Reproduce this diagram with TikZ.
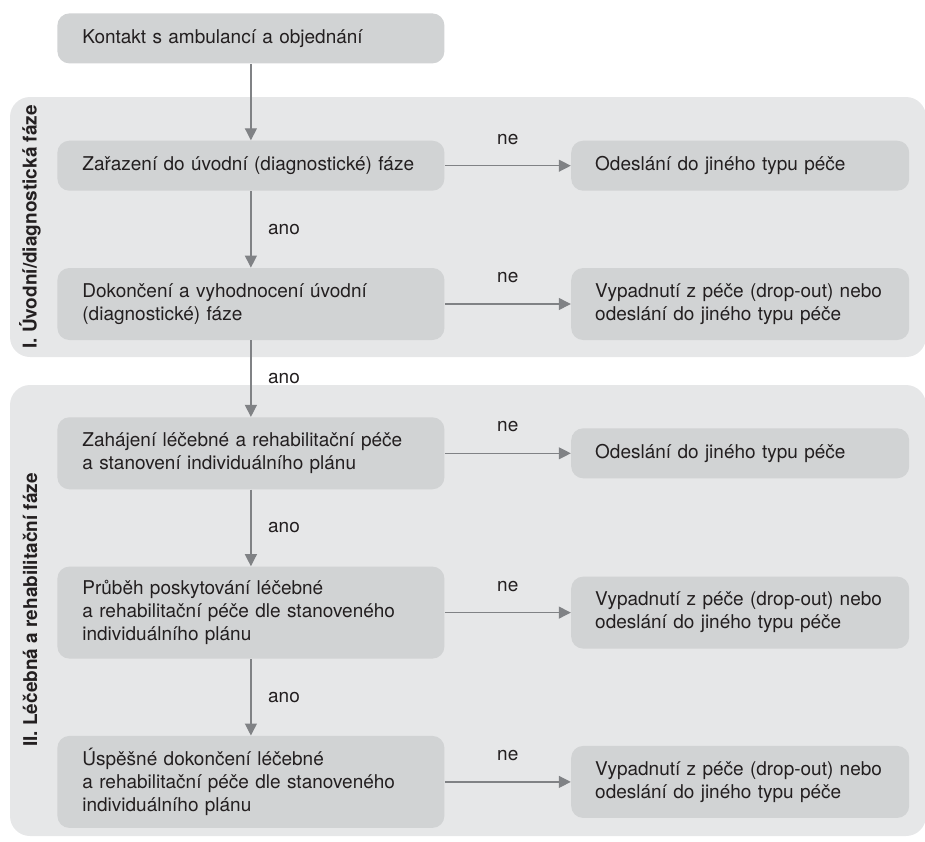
\documentclass[tikz,border=0pt]{standalone}
\usepackage{fontspec}
\setmainfont{TeX Gyre Heros}
\usetikzlibrary{positioning,arrows.meta}
\definecolor{panel}{HTML}{E6E7E8}
\definecolor{krabice}{HTML}{D1D3D4}
\definecolor{sipkaseda}{HTML}{808285}
\definecolor{pismo}{HTML}{231F20}

\begin{document}
\begin{tikzpicture}[
    x=0.5pt,y=-0.5pt,
    font=\fontsize{9.5}{11.5}\selectfont,
    text=pismo,
    krok/.style={
      rectangle,
      rounded corners=6pt,
      fill=krabice,
      text width=168.5pt,
      inner xsep=12.5pt,
      inner ysep=0pt,
      align=left},
    vystup/.style={
      rectangle,
      rounded corners=6pt,
      fill=krabice,
      text width=145pt,
      inner xsep=12pt,
      inner ysep=0pt,
      align=left},
    faze/.style={
      rotate=90,
      font=\fontsize{9.5}{11.5}\selectfont\bfseries},
    sipka/.style={
      -{Triangle[length=6pt,width=6pt]},
      line width=0.6pt,
      draw=sipkaseda}]
  \useasboundingbox (0,0) rectangle (925,841);

  % faze
  \fill[panel,rounded corners=10pt] (10,97) rectangle (926,357);
  \fill[panel,rounded corners=10pt] (10,385) rectangle (926,836);
  \node[faze] (fazeI) at (30,227) {I. Úvodní/diagnostická fáze};
  \node[faze] (fazeII) at (30,610) {II. Léčebná a rehabilitační fáze};

  % hlavni sloupec
  \node[krok,minimum height=25pt,anchor=north west] at (57,13) (kontakt)
    {Kontakt s ambulancí a objednání};
  \node[krok,minimum height=25pt,below=38.25pt of kontakt] (zarazeni)
    {Zařazení do úvodní (diagnostické) fáze};
  \node[krok,minimum height=36pt,below=38.25pt of zarazeni] (dokonceni)
    {Dokončení a vyhodnocení úvodní\\(diagnostické) fáze};
  \node[krok,minimum height=36pt,below=38.25pt of dokonceni] (zahajeni)
    {Zahájení léčebné a rehabilitační péče\\a stanovení individuálního plánu};
  \node[krok,minimum height=46pt,below=38.25pt of zahajeni] (prubeh)
    {Průběh poskytování léčebné\\a rehabilitační péče dle stanoveného\\individuálního plánu};
  \node[krok,minimum height=46pt,below=38.25pt of prubeh] (uspech)
    {Úspěšné dokončení léčebné\\a rehabilitační péče dle stanoveného\\individuálního plánu};

  % vystupy
  \node[vystup,minimum height=25pt,right=63pt of zarazeni] (odeslaniA)
    {Odeslání do jiného typu péče};
  \node[vystup,minimum height=36pt,right=63pt of dokonceni] (vypadnutiA)
    {Vypadnutí z péče (drop-out) nebo\\odeslání do jiného typu péče};
  \node[vystup,minimum height=25pt,right=63pt of zahajeni] (odeslaniB)
    {Odeslání do jiného typu péče};
  \node[vystup,minimum height=36pt,right=63pt of prubeh] (vypadnutiB)
    {Vypadnutí z péče (drop-out) nebo\\odeslání do jiného typu péče};
  \node[vystup,minimum height=36pt,right=63pt of uspech] (vypadnutiC)
    {Vypadnutí z péče (drop-out) nebo\\odeslání do jiného typu péče};

  \draw[sipka] (kontakt) -- (zarazeni);
  \draw[sipka] (zarazeni) -- node[right=5pt] {ano} (dokonceni);
  \draw[sipka] (dokonceni) -- node[right=5pt] {ano} (zahajeni);
  \draw[sipka] (zahajeni) -- node[right=5pt] {ano} (prubeh);
  \draw[sipka] (prubeh) -- node[right=5pt] {ano} (uspech);

  \draw[sipka] (zarazeni) -- node[above=7pt] {ne} (odeslaniA);
  \draw[sipka] (dokonceni) -- node[above=7pt] {ne} (vypadnutiA);
  \draw[sipka] (zahajeni) -- node[above=7pt] {ne} (odeslaniB);
  \draw[sipka] (prubeh) -- node[above=7pt] {ne} (vypadnutiB);
  \draw[sipka] (uspech) -- node[above=7pt] {ne} (vypadnutiC);

\end{tikzpicture}
\end{document}
